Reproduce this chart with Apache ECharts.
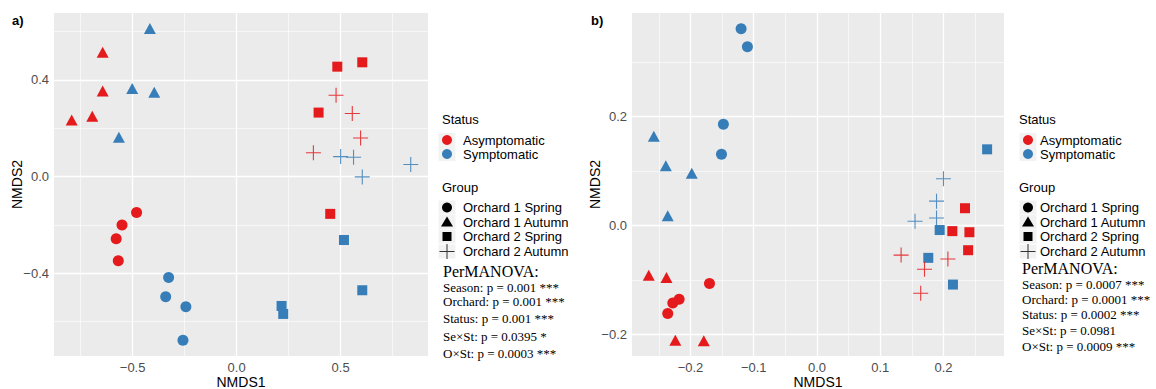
<!DOCTYPE html>
<html><head><meta charset="utf-8">
<script src="https://cdn.jsdelivr.net/npm/echarts@6/dist/echarts.min.js"></script>
<style>html,body{margin:0;padding:0;background:#fff}#c{width:1156px;height:389px}</style>
</head><body><div id="c"></div>
<script>
// ---------- DATA ----------
const groups = ['Orchard 1 Spring', 'Orchard 1 Autumn', 'Orchard 2 Spring', 'Orchard 2 Autumn'];
const statuses = ['Asymptomatic', 'Symptomatic'];

// Panel a) points [NMDS1, NMDS2]
const a_O1Spring_Asym = [[-0.481, -0.148], [-0.551, -0.200], [-0.579, -0.257], [-0.569, -0.348]];
const a_O1Spring_Sym  = [[-0.327, -0.417], [-0.341, -0.497], [-0.244, -0.538], [-0.258, -0.677]];
const a_O1Autumn_Asym = [[-0.793, 0.234], [-0.694, 0.250], [-0.644, 0.354], [-0.644, 0.515]];
const a_O1Autumn_Sym  = [[-0.417, 0.613], [-0.502, 0.365], [-0.396, 0.349], [-0.566, 0.163]];
const a_O2Spring_Asym = [[0.484, 0.455], [0.604, 0.473], [0.394, 0.265], [0.450, -0.154]];
const a_O2Spring_Sym  = [[0.516, -0.262], [0.604, -0.470], [0.216, -0.535], [0.224, -0.568]];
const a_O2Autumn_Asym = [[0.478, 0.337], [0.556, 0.261], [0.596, 0.160], [0.369, 0.099]];
const a_O2Autumn_Sym  = [[0.500, 0.083], [0.562, 0.080], [0.604, -0.001], [0.837, 0.050]];

// Panel b)
const b_O1Spring_Asym = [[-0.170, -0.106], [-0.218, -0.135], [-0.228, -0.142], [-0.236, -0.161]];
const b_O1Spring_Sym  = [[-0.120, 0.361], [-0.110, 0.328], [-0.148, 0.186], [-0.151, 0.131]];
const b_O1Autumn_Asym = [[-0.266, -0.091], [-0.238, -0.095], [-0.224, -0.210], [-0.179, -0.211]];
const b_O1Autumn_Sym  = [[-0.258, 0.164], [-0.239, 0.110], [-0.198, 0.096], [-0.236, 0.018]];
const b_O2Spring_Asym = [[0.234, 0.032], [0.214, -0.010], [0.241, -0.012], [0.239, -0.045]];
const b_O2Spring_Sym  = [[0.269, 0.140], [0.194, -0.008], [0.176, -0.059], [0.215, -0.108]];
const b_O2Autumn_Asym = [[0.133, -0.054], [0.207, -0.061], [0.170, -0.080], [0.164, -0.124]];
const b_O2Autumn_Sym  = [[0.200, 0.086], [0.189, 0.045], [0.189, 0.014], [0.155, 0.008]];

// Axis ticks
const a_xMajor = [-0.5, 0, 0.5], a_xMinor = [-0.75, -0.25, 0.25, 0.75];
const a_yMajor = [-0.4, 0, 0.4], a_yMinor = [-0.6, -0.2, 0.2, 0.6];
const b_xMajor = [-0.2, -0.1, 0, 0.1, 0.2], b_xMinor = [-0.25, -0.15, -0.05, 0.05, 0.15, 0.25];
const b_yMajor = [-0.2, 0, 0.2], b_yMinor = [-0.1, 0.1, 0.3];
const a_xRange = [-0.878, 0.92], a_yRange = [-0.742, 0.677];
const b_xRange = [-0.2925, 0.2957], b_yRange = [-0.239, 0.390];

const a_stats = ['Season: p = 0.001 ***', 'Orchard: p = 0.001 ***', 'Status: p = 0.001 ***', 'Se\u00d7St: p = 0.0395 *', 'O\u00d7St: p = 0.0003 ***'];
const b_stats = ['Season: p = 0.0007 ***', 'Orchard: p = 0.0001 ***', 'Status: p = 0.0002 ***', 'Se\u00d7St: p = 0.0981', 'O\u00d7St: p = 0.0009 ***'];

// ---------- STYLE ----------
const RED = '#E41A1C', BLUE = '#377EB8';
const statusColors = [RED, BLUE];
const PLUS = 'path://M0,5L10,5M5,0L5,10';
const groupSymbols = ['circle', 'triangle', 'rect', PLUS];
const groupSizes = [11, [12, 11], 10, 15];

const panels = [
  {data: [[a_O1Spring_Asym, a_O1Spring_Sym], [a_O1Autumn_Asym, a_O1Autumn_Sym], [a_O2Spring_Asym, a_O2Spring_Sym], [a_O2Autumn_Asym, a_O2Autumn_Sym]],
   xMajor: a_xMajor, xMinor: a_xMinor, yMajor: a_yMajor, yMinor: a_yMinor, xr: a_xRange, yr: a_yRange,
   grid: {left: 54, top: 13, width: 374, height: 343}},
  {data: [[b_O1Spring_Asym, b_O1Spring_Sym], [b_O1Autumn_Asym, b_O1Autumn_Sym], [b_O2Spring_Asym, b_O2Spring_Sym], [b_O2Autumn_Asym, b_O2Autumn_Sym]],
   xMajor: b_xMajor, xMinor: b_xMinor, yMajor: b_yMajor, yMinor: b_yMinor, xr: b_xRange, yr: b_yRange,
   grid: {left: 632, top: 13, width: 372, height: 343}}
];

const fmt = v => (Math.abs(v) < 1e-9 ? 0 : v).toFixed(1).replace('-', '\u2212');
const SANS = 'Liberation Sans, Arial, sans-serif';
const SERIF = 'Liberation Serif, Times New Roman, serif';

const grid = [], xAxis = [], yAxis = [], series = [];
panels.forEach((p, pi) => {
  grid.push(Object.assign({show: true, backgroundColor: '#EBEBEB', borderWidth: 0, outerBoundsMode: 'none', containLabel: false, z: 0}, p.grid));
  xAxis.push({
    gridIndex: pi, type: 'value', min: p.xr[0], max: p.xr[1], position: 'bottom',
    name: 'NMDS1', nameLocation: 'middle', nameGap: 19, nameMoveOverlap: false,
    nameTextStyle: {color: '#000', fontSize: 14, fontFamily: SANS},
    axisLine: {show: false},
    axisTick: {show: true, length: 3, lineStyle: {color: '#333', width: 1}, customValues: p.xMajor},
    axisLabel: {customValues: p.xMajor, formatter: fmt, color: '#4D4D4D', fontSize: 13, fontFamily: SANS, margin: 5},
    splitLine: {show: false}
  });
  yAxis.push({
    gridIndex: pi, type: 'value', min: p.yr[0], max: p.yr[1], position: 'left',
    name: 'NMDS2', nameLocation: 'middle', nameGap: 30, nameRotate: 90, nameMoveOverlap: false,
    nameTextStyle: {color: '#000', fontSize: 14, fontFamily: SANS},
    axisLine: {show: false},
    axisTick: {show: true, length: 3, lineStyle: {color: '#333', width: 1}, customValues: p.yMajor},
    axisLabel: {customValues: p.yMajor, formatter: fmt, color: '#4D4D4D', fontSize: 13, fontFamily: SANS, margin: 5},
    splitLine: {show: false}
  });
  // panel grid lines, drawn via markLine from the tick arrays
  const gl = [];
  p.xMinor.forEach(v => gl.push({xAxis: v, lineStyle: {width: 0.6}}));
  p.yMinor.forEach(v => gl.push({yAxis: v, lineStyle: {width: 0.6}}));
  p.xMajor.forEach(v => gl.push({xAxis: v, lineStyle: {width: 1.3}}));
  p.yMajor.forEach(v => gl.push({yAxis: v, lineStyle: {width: 1.3}}));
  series.push({
    type: 'scatter', name: 'grid' + pi, xAxisIndex: pi, yAxisIndex: pi, data: [], z: 1, silent: true,
    markLine: {z: 1, silent: true, symbol: ['none', 'none'], label: {show: false}, animation: false,
      lineStyle: {color: '#FFFFFF', type: 'solid'}, emphasis: {disabled: true}, data: gl}
  });
  p.data.forEach((pair, gi) => {
    pair.forEach((pts, si) => {
      const isPlus = gi === 3;
      series.push({
        type: 'scatter', name: groups[gi] + ' ' + statuses[si],
        xAxisIndex: pi, yAxisIndex: pi,
        symbol: groupSymbols[gi], symbolSize: groupSizes[gi],
        data: pts, z: 10,
        itemStyle: isPlus
          ? {color: 'transparent', borderColor: statusColors[si], borderWidth: 1.1, opacity: 0.85}
          : {color: statusColors[si], opacity: 1},
        emphasis: {disabled: true}, silent: true
      });
    });
  });
});

// ---------- LEGENDS (graphic) ----------
const graphic = [];
function legend(x0, keyX, textX, statX, statY, stats) {
  const t = (x, y, s, font, extra) => graphic.push(Object.assign({type: 'text', x: x, y: y,
      style: Object.assign({text: s, font: font, fill: '#000', verticalAlign: 'middle'}, extra || {})}));
  const keyBg = (y) => graphic.push({type: 'rect', shape: {x: keyX - 8.5, y: y - 7, width: 17, height: 14}, style: {fill: '#F2F2F2'}});
  t(x0, 119, 'Status', '13px ' + SANS);
  [140, 154].forEach((y, i) => {
    keyBg(y);
    graphic.push({type: 'circle', shape: {cx: keyX, cy: y, r: 5}, style: {fill: statusColors[i]}});
    t(textX, y, statuses[i], '13px ' + SANS);
  });
  t(x0, 187, 'Group', '13px ' + SANS);
  const gy = [207.5, 222, 236.5, 251.5];
  gy.forEach((y, i) => {
    keyBg(y);
    t(textX, y, groups[i], '13px ' + SANS);
  });
  graphic.push({type: 'circle', shape: {cx: keyX, cy: gy[0], r: 5}, style: {fill: '#000'}});
  graphic.push({type: 'polygon', shape: {points: [[keyX, gy[1] - 5.5], [keyX + 6, gy[1] + 4.5], [keyX - 6, gy[1] + 4.5]]}, style: {fill: '#000'}});
  graphic.push({type: 'rect', shape: {x: keyX - 4.5, y: gy[2] - 4.5, width: 9, height: 9}, style: {fill: '#000'}});
  graphic.push({type: 'line', shape: {x1: keyX - 7.5, y1: gy[3], x2: keyX + 7.5, y2: gy[3]}, style: {stroke: '#333', lineWidth: 1}});
  graphic.push({type: 'line', shape: {x1: keyX, y1: gy[3] - 7.5, x2: keyX, y2: gy[3] + 7.5}, style: {stroke: '#333', lineWidth: 1}});
  t(statX, statY[0], 'PerMANOVA:', '16px ' + SERIF);
  stats.forEach((s, i) => t(statX, statY[i + 1], s, '13px ' + SERIF));
}
legend(442, 447, 463, 443, [271, 287, 301, 318, 336, 353], a_stats);
legend(1019, 1028, 1040, 1022, [268, 284, 299, 314, 330, 346], b_stats);
graphic.push({type: 'text', x: 12, y: 20, style: {text: 'a)', font: 'bold 13px ' + SANS, fill: '#000', verticalAlign: 'middle'}});
graphic.push({type: 'text', x: 591, y: 20, style: {text: 'b)', font: 'bold 13px ' + SANS, fill: '#000', verticalAlign: 'middle'}});

const chart = echarts.init(document.getElementById('c'), null, {renderer: 'svg'});
chart.setOption({animation: false, backgroundColor: '#fff', grid, xAxis, yAxis, series, graphic});
</script></body></html>
